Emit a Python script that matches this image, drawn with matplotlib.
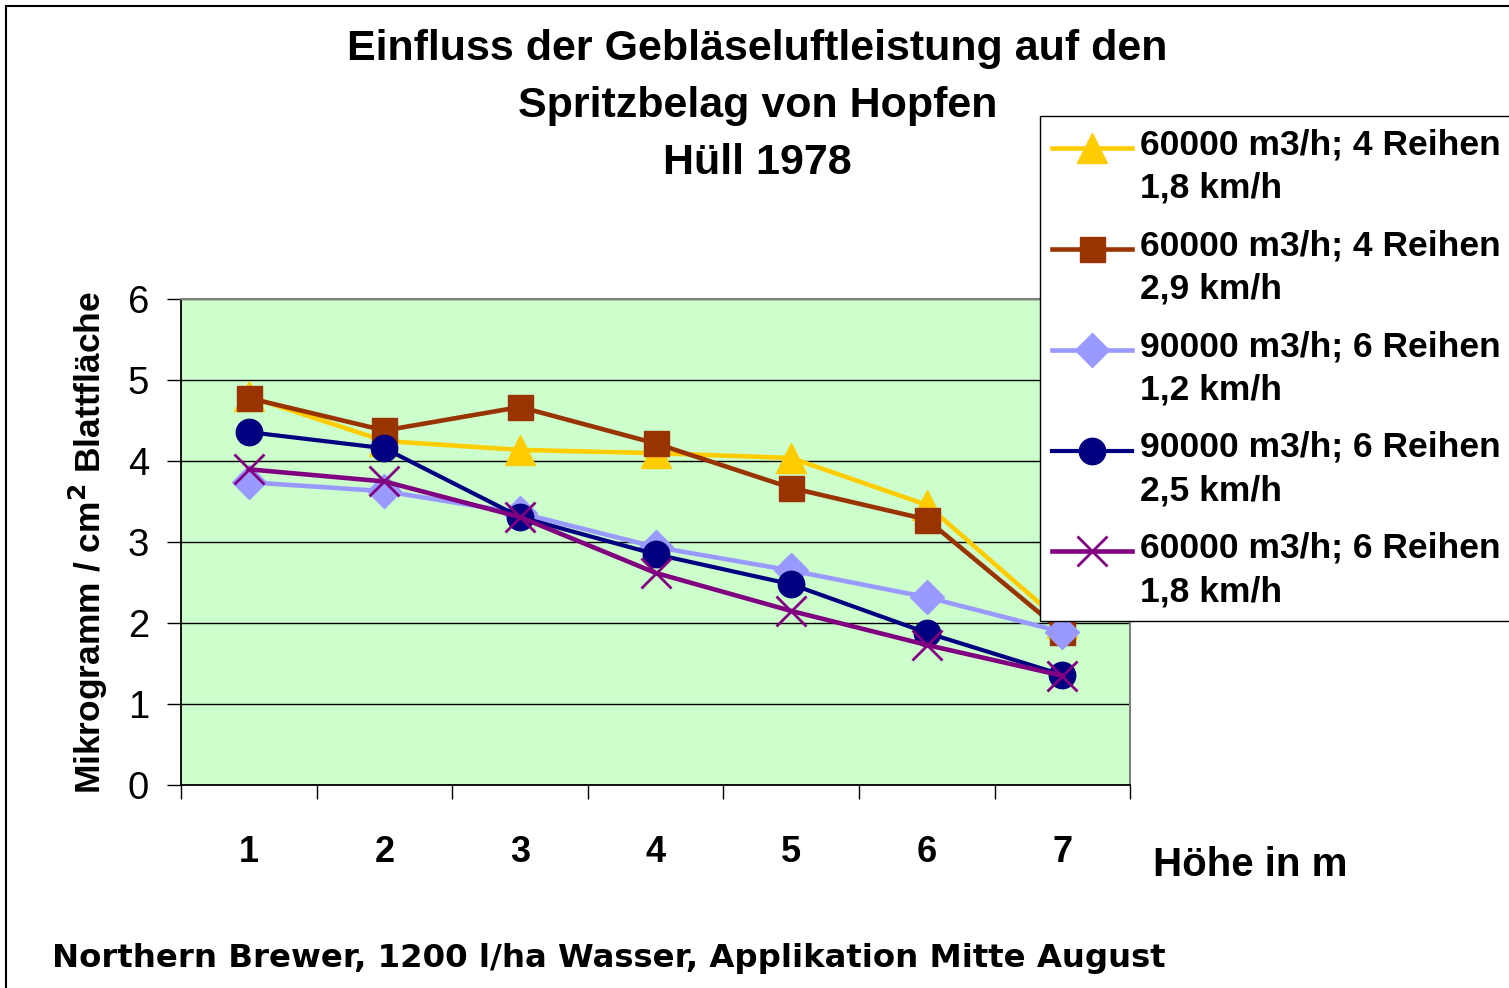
"""Spritzbelag von Hopfen in Abhängigkeit von der Gebläseluftleistung."""
import matplotlib
matplotlib.use("Agg")
import matplotlib.pyplot as plt
from matplotlib.patches import Rectangle
from matplotlib.ticker import FixedLocator, NullFormatter
from matplotlib.legend_handler import HandlerLine2D

hoehen = ["1", "2", "3", "4", "5", "6", "7"]

serie_60k_4r_18 = [4.80, 4.25, 4.14, 4.10, 4.04, 3.46, 2.00]
serie_60k_4r_29 = [4.78, 4.38, 4.67, 4.22, 3.67, 3.28, 1.89]
serie_90k_6r_12 = [3.74, 3.63, 3.36, 2.94, 2.65, 2.32, 1.89]
serie_90k_6r_25 = [4.36, 4.16, 3.31, 2.85, 2.48, 1.88, 1.36]
serie_60k_6r_18 = [3.90, 3.75, 3.31, 2.62, 2.15, 1.73, 1.35]

labels = [
    "60000 m3/h; 4 Reihen\n1,8 km/h",
    "60000 m3/h; 4 Reihen\n2,9 km/h",
    "90000 m3/h; 6 Reihen\n1,2 km/h",
    "90000 m3/h; 6 Reihen\n2,5 km/h",
    "60000 m3/h; 6 Reihen\n1,8 km/h",
]

FONT = "Liberation Sans"


class HandlerErsteZeile(HandlerLine2D):
    """Legendensymbol auf Höhe der ersten Textzeile setzen."""

    def __init__(self, shift=16, **kw):
        super().__init__(**kw)
        self.shift = shift

    def create_artists(self, legend, orig_handle, xdescent, ydescent,
                       width, height, fontsize, trans):
        return super().create_artists(legend, orig_handle, xdescent,
                                      ydescent - self.shift, width, height,
                                      fontsize, trans)


fig = plt.figure(figsize=(15.09, 9.88), dpi=100)
ax = fig.add_axes([0.120, 0.2055, 0.629, 0.4915])
ax.set_facecolor("#CCFFCC")

x = [i + 0.5 for i in range(len(hoehen))]

ax.plot(x, serie_60k_4r_18, color="#FFCC00", linewidth=3.3, marker="^",
        markersize=21, label=labels[0])
ax.plot(x, serie_60k_4r_29, color="#993300", linewidth=3.3, marker="s",
        markersize=18, label=labels[1])
ax.plot(x, serie_90k_6r_12, color="#9999FF", linewidth=3.3, marker="D",
        markersize=17, label=labels[2])
ax.plot(x, serie_90k_6r_25, color="#000080", linewidth=3.0, marker="o",
        markersize=19, label=labels[3])
ax.plot(x, serie_60k_6r_18, color="#800080", linewidth=3.3, marker="x",
        markersize=22, markeredgewidth=2.0, label=labels[4])

ax.set_xlim(0, 7)
ax.set_ylim(0, 6)
ax.set_yticks(range(7))
ax.grid(True, axis="y", color="black", linewidth=1.0)
ax.set_axisbelow(True)

# Kategorien in der Mitte, Striche an den Grenzen
ax.set_xticks(x)
ax.set_xticklabels(hoehen)
ax.xaxis.set_minor_locator(FixedLocator(range(8)))
ax.xaxis.set_minor_formatter(NullFormatter())
ax.tick_params(axis="x", which="major", length=0, pad=36, labelsize=26,
               labelfontfamily=FONT)
for lbl in ax.get_xticklabels():
    lbl.set_fontweight("bold")
ax.tick_params(axis="x", which="minor", length=10, width=1, direction="out")
ax.tick_params(axis="y", length=10, width=1, direction="out", pad=13,
               labelsize=27.5, labelfontfamily=FONT)

for side in ["top", "right"]:
    ax.spines[side].set_color("#808080")
    ax.spines[side].set_linewidth(1.5)
for side in ["left", "bottom"]:
    ax.spines[side].set_color("black")
    ax.spines[side].set_linewidth(1.3)

ax.set_ylabel("Mikrogramm / cm$^{\\mathbf{2}}$ Blattfläche", fontsize=25.5,
              fontweight="bold", family=FONT, labelpad=13)

fig.text(0.502, 1 - 106 / 988, "Einfluss der Gebläseluftleistung auf den\n"
         "Spritzbelag von Hopfen\nHüll 1978",
         ha="center", va="center", fontsize=31, fontweight="bold",
         family=FONT, linespacing=1.56)

fig.text(1153 / 1509, 1 - 865 / 988, "Höhe in m", ha="left", va="center",
         fontsize=29, fontweight="bold", family=FONT)

fig.text(52 / 1509, 1 - 958 / 988,
         "Northern Brewer, 1200 l/ha Wasser, Applikation Mitte August",
         ha="left", va="center", fontsize=23.3, fontweight="bold",
         family="DejaVu Sans")

leg = fig.legend(loc="upper left", bbox_to_anchor=(1040 / 1509, 1 - 116 / 988),
                 frameon=True, fancybox=False, framealpha=1, edgecolor="black",
                 prop={"family": FONT, "weight": "bold", "size": 25.5},
                 handlelength=2.25, handletextpad=0.22, borderpad=0.35,
                 labelspacing=0.69, borderaxespad=0,
                 handler_map={type(ax.lines[0]): HandlerErsteZeile(shift=27.5)})
leg.get_frame().set_linewidth(1.0)
for t in leg.get_texts():
    t.set_linespacing(1.40)

# Rahmen um die ganze Grafik
fig.patches.append(Rectangle((6 / 1509, -0.05), 1.2, 1 - 6 / 988 + 0.05,
                             transform=fig.transFigure, fill=False,
                             edgecolor="black", linewidth=1.5))

fig.savefig("out.png", dpi=100)
